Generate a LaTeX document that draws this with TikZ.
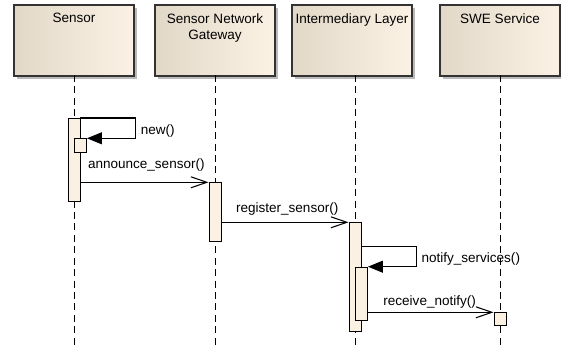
\documentclass[tikz,border=0pt]{standalone}
\usepackage{fontspec}
\setmainfont{Liberation Sans}
\usetikzlibrary{arrows.meta,shadows}
\definecolor{boxleft}{RGB}{226,216,200}
\definecolor{boxright}{RGB}{251,242,229}
\definecolor{actfill}{RGB}{251,241,226}
\tikzset{
  lifebox/.style={rectangle,draw=black!80,line width=0.85pt,left color=boxleft,right color=boxright,
    minimum width=2.4cm,minimum height=1.42cm,anchor=north,
    drop shadow={shadow xshift=1.8pt,shadow yshift=-1.8pt,fill=black!45,opacity=0.6}},
  boxtext/.style={font=\fontsize{7.7}{9}\selectfont,inner sep=0pt,anchor=north,align=center,yshift=-5pt},
  act/.style={rectangle,draw,line width=0.55pt,fill=actfill,minimum width=0.24cm,inner sep=0pt,anchor=north},
  lifeline/.style={line width=0.55pt,dash pattern=on 4pt off 2.5pt},
  msg/.style={font=\fontsize{7.7}{9}\selectfont,inner sep=0pt,anchor=base west},
  call/.style={line width=0.6pt,-{Straight Barb[length=0.32cm,width=0.22cm]}},
  self/.style={line width=0.6pt,-{Triangle[length=0.3cm,width=0.24cm]}}
}
\begin{document}
\begin{tikzpicture}[x=0.02cm,y=-0.02cm]
\useasboundingbox (0,0) rectangle (561,351);
\node[lifebox,label={[boxtext,name=sensortxt]north:Sensor}] (sensor) at (74,4.3) {};
\node[lifebox,label={[boxtext,name=gatewaytxt]north:Sensor Network\\Gateway}] (gateway) at (215,4.3) {};
\node[lifebox,label={[boxtext,name=layertxt]north:Intermediary Layer}] (layer) at (352,4.3) {};
\node[lifebox,label={[boxtext,name=swetxt]north:SWE Service}] (swe) at (500,4.3) {};
\foreach \b/\x in {sensor/74,gateway/215,layer/355,swe/500}{
  \coordinate (\b-top) at (\x,75);
  \coordinate (\b-end) at (\x,349);
  \draw[lifeline] (\b-top) -- (\b-end);
}
\node[act,minimum height=1.654cm] (sensoract) at (sensor-top |- 0,118) {};
\node[act,minimum height=0.274cm,anchor=north west] (newact) at (sensor-top |- 0,138.3) {};
\node[act,minimum height=1.174cm] (gatewayact) at (gateway-top |- 0,182.3) {};
\node[act,minimum height=2.17cm] (layeract) at (layer-top |- 0,222.3) {};
\node[act,minimum height=1.066cm,anchor=north west] (notifyact) at (layer-top |- 0,266.7) {};
\node[act,minimum height=0.246cm] (sweact) at (swe-top |- 0,312.3) {};
\draw[self] (sensoract.north east) -- ++(55,0) |- node[msg,pos=0.25,xshift=2.8pt,yshift=-0.12cm] (newtxt) {new()} (newact.north east);
\draw[call] (sensoract.east |- gatewayact.north) -- node[msg,pos=0,xshift=4pt,yshift=7.7pt] (announcetxt) {announce\_sensor()} (gatewayact.north west);
\draw[call] (gatewayact.east |- layeract.north) -- node[msg,pos=0,xshift=8pt,yshift=5.7pt] (registertxt) {register\_sensor()} (layeract.north west);
\draw[self] (layeract.east |- 0,246.7) -- ++(54.6,0) |- node[msg,pos=0.25,xshift=2.8pt,yshift=-0.11cm] (servicestxt) {notify\_services()} (notifyact.north east);
\draw[call] (notifyact.east |- sweact.north) -- node[msg,pos=0,xshift=8.5pt,yshift=4pt] (receivetxt) {receive\_notify()} (sweact.north west);
\end{tikzpicture}
\end{document}
